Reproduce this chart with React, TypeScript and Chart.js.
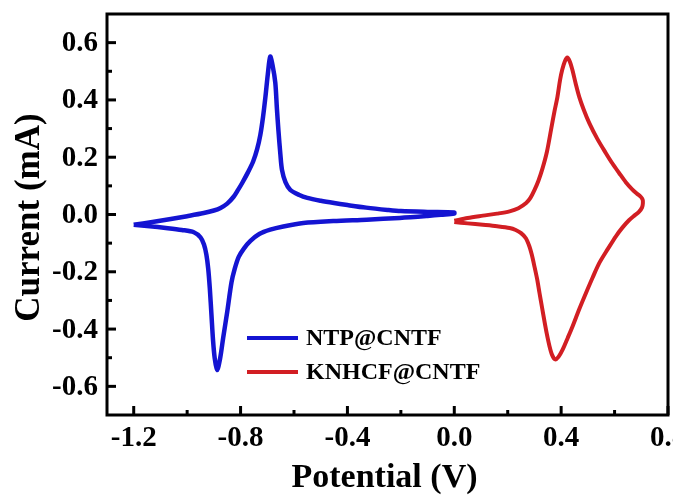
import React, { useEffect, useRef } from "react";
import { Chart, registerables } from "chart.js";

Chart.register(...registerables);

const xLabel = "Potential (V)";
const yLabel = "Current (mA)";
const seriesNames = ["NTP@CNTF", "KNHCF@CNTF"];
const seriesColors = ["#1414d2", "#d21e23"];

const xMin = -1.3;
const xMax = 0.8;
const yMin = -0.7;
const yMax = 0.7;
const xMajorTicks = [-1.2, -0.8, -0.4, 0.0, 0.4, 0.8];
const xMinorTicks = [-1.0, -0.6, -0.2, 0.2, 0.6];
const yMajorTicks = [-0.6, -0.4, -0.2, 0.0, 0.2, 0.4, 0.6];
const yMinorTicks = [-0.5, -0.3, -0.1, 0.1, 0.3, 0.5];

// NTP@CNTF cyclic voltammogram (closed loop)
const ntpX = [
  -1.2, -1.13, -1.061, -1.0, -0.938, -0.9, -0.875, -0.85, -0.826, -0.81, -0.794, -0.772, -0.753, -0.738,
  -0.726, -0.716, -0.707, -0.698, -0.689, -0.68, -0.67, -0.664, -0.658, -0.651, -0.645, -0.632, -0.614, -0.58,
  -0.55, -0.5, -0.45, -0.4, -0.33, -0.25, -0.2, -0.1, 0.0,
  0.0, -0.05, -0.1, -0.204, -0.328, -0.453, -0.565, -0.64, -0.689, -0.73, -0.763, -0.787, -0.807, -0.822,
  -0.834, -0.85, -0.865, -0.877, -0.888, -0.897, -0.903, -0.909, -0.915, -0.921, -0.928, -0.937, -0.95,
  -0.975, -1.02, -1.08, -1.14, -1.2,
];
const ntpY = [
  -0.036, -0.026, -0.016, -0.006, 0.005, 0.014, 0.023, 0.038, 0.062, 0.085, 0.11, 0.148, 0.185, 0.228,
  0.278, 0.34, 0.41, 0.49, 0.551, 0.52, 0.46, 0.37, 0.29, 0.21, 0.156, 0.113, 0.086, 0.068,
  0.058, 0.048, 0.04, 0.033, 0.024, 0.016, 0.012, 0.009, 0.007,
  0.003, -0.001, -0.005, -0.012, -0.018, -0.023, -0.03, -0.042, -0.053, -0.068, -0.092, -0.118, -0.148, -0.19,
  -0.237, -0.34, -0.43, -0.505, -0.543, -0.5, -0.44, -0.35, -0.26, -0.19, -0.14, -0.105, -0.08,
  -0.062, -0.054, -0.047, -0.041, -0.036,
];

// KNHCF@CNTF cyclic voltammogram (closed loop)
const knhcfX = [
  0.0, 0.05, 0.107, 0.16, 0.207, 0.24, 0.269, 0.285, 0.3, 0.315, 0.33, 0.347, 0.362, 0.375, 0.386, 0.396,
  0.404, 0.414, 0.423, 0.432, 0.442, 0.455, 0.468, 0.485, 0.505, 0.535, 0.567, 0.592, 0.617, 0.642, 0.666,
  0.685, 0.698, 0.705, 0.706, 0.703, 0.692,
  0.675, 0.654, 0.63, 0.605, 0.575, 0.543, 0.518, 0.493, 0.468, 0.443, 0.425, 0.406, 0.39, 0.378, 0.366,
  0.356, 0.346, 0.337, 0.328, 0.319, 0.31, 0.3, 0.29, 0.281, 0.268, 0.25, 0.23, 0.207, 0.16, 0.107, 0.05, 0.0,
];
const knhcfY = [
  -0.022, -0.012, -0.004, 0.003, 0.011, 0.022, 0.04, 0.058, 0.085, 0.118, 0.16, 0.22, 0.295, 0.36, 0.41, 0.47,
  0.505, 0.535, 0.548, 0.535, 0.505, 0.455, 0.41, 0.365, 0.32, 0.265, 0.215, 0.178, 0.145, 0.113, 0.088,
  0.072, 0.062, 0.052, 0.04, 0.025, 0.01,
  -0.003, -0.02, -0.045, -0.076, -0.12, -0.169, -0.22, -0.274, -0.33, -0.39, -0.43, -0.471, -0.497, -0.506, -0.49,
  -0.458, -0.415, -0.37, -0.322, -0.274, -0.225, -0.181, -0.14, -0.111, -0.083, -0.065, -0.054, -0.047, -0.041,
  -0.036, -0.031, -0.026,
];

const FONT = "'Liberation Serif', 'Times New Roman', serif";

const axesPlugin = {
  id: "customAxes",
  afterDraw(chart: any) {
    const ctx = chart.ctx;
    const area = chart.chartArea;
    const xs = chart.scales.x;
    const ys = chart.scales.y;
    ctx.save();
    ctx.strokeStyle = "#000";
    ctx.fillStyle = "#000";
    // frame
    ctx.lineWidth = 3;
    ctx.strokeRect(area.left, area.top, area.right - area.left, area.bottom - area.top);
    // ticks (inward)
    ctx.lineWidth = 3;
    const drawX = (v: number, len: number) => {
      const px = xs.getPixelForValue(v);
      ctx.beginPath();
      ctx.moveTo(px, area.bottom);
      ctx.lineTo(px, area.bottom - len);
      ctx.stroke();
    };
    const drawY = (v: number, len: number) => {
      const py = ys.getPixelForValue(v);
      ctx.beginPath();
      ctx.moveTo(area.left, py);
      ctx.lineTo(area.left + len, py);
      ctx.stroke();
    };
    xMajorTicks.forEach((v) => drawX(v, 9));
    xMinorTicks.forEach((v) => drawX(v, 5));
    yMajorTicks.forEach((v) => drawY(v, 9));
    yMinorTicks.forEach((v) => drawY(v, 5));
    // tick labels
    ctx.font = `bold 29px ${FONT}`;
    ctx.textAlign = "center";
    ctx.textBaseline = "middle";
    xMajorTicks.forEach((v) => {
      ctx.fillText(v.toFixed(1), xs.getPixelForValue(v), area.bottom + 24);
    });
    ctx.textAlign = "right";
    yMajorTicks.forEach((v) => {
      ctx.fillText(v.toFixed(1), area.left - 9, ys.getPixelForValue(v) + 1);
    });
    // axis titles
    ctx.font = `bold 34px ${FONT}`;
    ctx.textAlign = "center";
    ctx.fillText(xLabel, (area.left + area.right) / 2 - 3, area.bottom + 63);
    ctx.save();
    ctx.font = `bold 35px ${FONT}`;
    ctx.translate(30, (area.top + area.bottom) / 2 + 3);
    ctx.rotate(-Math.PI / 2);
    ctx.fillText(yLabel, 0, 0);
    ctx.restore();
    // legend
    ctx.font = `bold 24px ${FONT}`;
    ctx.textAlign = "left";
    chart.data.datasets.forEach((ds: any, i: number) => {
      const y = area.top + 324 + i * 34;
      ctx.strokeStyle = ds.borderColor;
      ctx.lineWidth = 4;
      ctx.beginPath();
      ctx.moveTo(area.left + 140, y);
      ctx.lineTo(area.left + 191, y);
      ctx.stroke();
      ctx.fillStyle = "#000";
      ctx.fillText(ds.label, area.left + 199, y + 1);
    });
    ctx.restore();
  },
};

export default function App() {
  const ref = useRef<HTMLCanvasElement | null>(null);
  useEffect(() => {
    if (!ref.current) return;
    const toPts = (xa: number[], ya: number[]) => xa.map((x, i) => ({ x, y: ya[i] }));
    const chart = new Chart(ref.current, {
      type: "scatter",
      data: {
        datasets: [
          {
            label: seriesNames[0],
            data: toPts(ntpX, ntpY),
            showLine: true,
            borderColor: seriesColors[0],
            backgroundColor: seriesColors[0],
            borderWidth: 4.5,
            pointRadius: 0,
            tension: 0.3,
          },
          {
            label: seriesNames[1],
            data: toPts(knhcfX, knhcfY),
            showLine: true,
            borderColor: seriesColors[1],
            backgroundColor: seriesColors[1],
            borderWidth: 4,
            pointRadius: 0,
            tension: 0.3,
          },
        ],
      },
      options: {
        responsive: false,
        animation: false,
        devicePixelRatio: 1,
        layout: { padding: { left: 107, top: 14, right: 5, bottom: 84 } },
        plugins: { legend: { display: false }, tooltip: { enabled: false } },
        scales: {
          x: { type: "linear", min: xMin, max: xMax, display: false },
          y: { type: "linear", min: yMin, max: yMax, display: false },
        },
      },
      plugins: [axesPlugin],
    } as any);
    return () => chart.destroy();
  }, []);
  return (
    <div style={{ position: "fixed", left: 0, top: 0, width: 673, height: 499, background: "#fff" }}>
      <canvas ref={ref} width={673} height={499} />
    </div>
  );
}
